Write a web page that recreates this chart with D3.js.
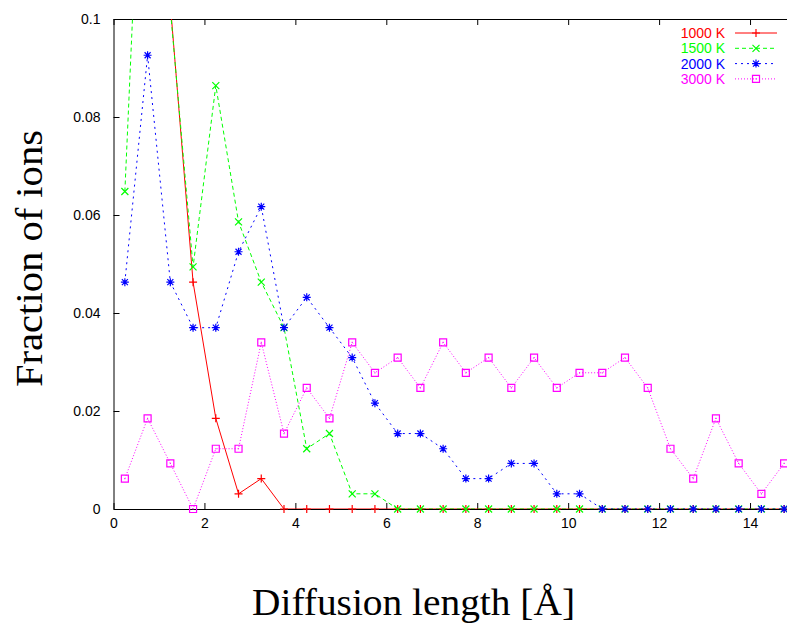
<!DOCTYPE html>
<html>
<head>
<meta charset="utf-8">
<script src="https://cdn.jsdelivr.net/npm/d3@7"></script>
<style>
  body { margin: 0; background: #fff; }
  .tick text { font-family: "Liberation Sans", Arial, sans-serif; font-size: 14px; fill: #000; }
  .axis path, .axis line { stroke: #000; stroke-width: 1; }
  .title { font-family: "Liberation Serif", "DejaVu Serif", serif; font-size: 37px; fill: #000; }
  .legend text { font-family: "Liberation Sans", Arial, sans-serif; font-size: 14px; }
</style>
</head>
<body>
<div id="vis"></div>
<script>
// Constants
const W = 787, H = 626;
const margin = { top: 19, left: 113.5, bottom: 117 };
const plotRight = 795.5; // right border lies just outside the picture

// bin centres (diffusion length, Angstrom)
const binCenters = [0.25, 0.75, 1.25, 1.75, 2.25, 2.75, 3.25, 3.75, 4.25, 4.75,
    5.25, 5.75, 6.25, 6.75, 7.25, 7.75, 8.25, 8.75, 9.25, 9.75,
    10.25, 10.75, 11.25, 11.75, 12.25, 12.75, 13.25, 13.75, 14.25, 14.75];

// fraction of ions per temperature
const frac1000 = [0.30, 0.25, 0.103, 0.0463, 0.0185, 0.0031, 0.0062, 0, 0, 0,
    0, 0, 0, 0, 0, 0, 0, 0, 0, 0,
    0, 0, 0, 0, 0, 0, 0, 0, 0, 0];
const frac1500 = [0.0648, 0.17, 0.102, 0.0494, 0.0864, 0.0586, 0.0463, 0.037, 0.0123, 0.0154,
    0.0031, 0.0031, 0, 0, 0, 0, 0, 0, 0, 0,
    0, 0, 0, 0, 0, 0, 0, 0, 0, 0];
const frac2000 = [0.0463, 0.0926, 0.0463, 0.037, 0.037, 0.0525, 0.0617, 0.037, 0.0432, 0.037,
    0.0309, 0.0216, 0.0154, 0.0154, 0.0123, 0.0062, 0.0062, 0.0093, 0.0093, 0.0031,
    0.0031, 0, 0, 0, 0, 0, 0, 0, 0, 0];
const frac3000 = [0.0062, 0.0185, 0.0093, 0, 0.0123, 0.0123, 0.034, 0.0154, 0.0247, 0.0185,
    0.034, 0.0278, 0.0309, 0.0247, 0.034, 0.0278, 0.0309, 0.0247, 0.0309, 0.0247,
    0.0278, 0.0278, 0.0309, 0.0247, 0.0123, 0.0062, 0.0185, 0.0093, 0.0031, 0.0093];

const seriesNames = ['1000 K', '1500 K', '2000 K', '3000 K'];
const seriesColors = ['#ff0000', '#00ff00', '#0000ff', '#ff00ff'];
const seriesDash = [null, '4,3', '2,4', '1,2'];
const seriesMarker = ['plus', 'cross', 'star', 'box'];
const seriesValues = [frac1000, frac1500, frac2000, frac3000];

const xTicks = [0, 2, 4, 6, 8, 10, 12, 14];
const yTicks = [0, 0.02, 0.04, 0.06, 0.08, 0.1];
const yTickLabels = ['0', '0.02', '0.04', '0.06', '0.08', '0.1'];

const xScale = d3.scaleLinear().domain([0, 15]).range([margin.left, plotRight]);
const yScale = d3.scaleLinear().domain([0, 0.1]).range([H - margin.bottom, margin.top]);

const svg = d3.select('#vis').append('svg')
    .attr('width', W)
    .attr('height', H);

// marker shapes, 4px half size
const s = 4;
const markerPaths = {
    plus: `M${-s},0H${s}M0,${-s}V${s}`,
    cross: `M${-s+0.5},${-s+0.5}L${s-0.5},${s-0.5}M${-s+0.5},${s-0.5}L${s-0.5},${-s+0.5}`,
    star: `M${-s},0H${s}M0,${-s}V${s}M${-s+1},${-s+1}L${s-1},${s-1}M${-s+1},${s-1}L${s-1},${-s+1}`,
    box: `M${-s+0.5},${-s+0.5}H${s-0.5}V${s-0.5}H${-s+0.5}Z M-0.5,0H0.5`
};

function drawAxes() {
    const bottomY = yScale(0);
    const g = svg.append('g').attr('class', 'axis');

    g.append('g')
        .attr('transform', `translate(0,${bottomY})`)
        .call(d3.axisBottom(xScale).tickValues(xTicks).tickSize(-6).tickSizeOuter(0).tickPadding(9)
            .tickFormat(d => d));

    g.append('g')
        .attr('transform', `translate(0,${margin.top})`)
        .call(d3.axisTop(xScale).tickValues(xTicks).tickSize(-6).tickSizeOuter(0).tickFormat(''));

    g.append('g')
        .attr('transform', `translate(${margin.left},0)`)
        .call(d3.axisLeft(yScale).tickValues(yTicks).tickSize(-6).tickSizeOuter(0).tickPadding(13)
            .tickFormat((d, i) => yTickLabels[i]));

    // axis titles (stretched to the widths of the original serif lettering)
    svg.append('text')
        .attr('class', 'title')
        .attr('x', 252)
        .attr('y', 615)
        .attr('textLength', 323)
        .attr('lengthAdjust', 'spacingAndGlyphs')
        .text('Diffusion length [Å]');

    svg.append('text')
        .attr('class', 'title')
        .attr('transform', 'rotate(-90)')
        .attr('x', -387)
        .attr('y', 42)
        .attr('textLength', 257)
        .attr('lengthAdjust', 'spacingAndGlyphs')
        .text('Fraction of ions');
}

function drawSeries() {
    svg.append('clipPath').attr('id', 'plotClip')
        .append('rect')
        .attr('x', margin.left)
        .attr('y', margin.top)
        .attr('width', plotRight - margin.left)
        .attr('height', yScale(0) - margin.top);

    const line = d3.line()
        .x((d, i) => xScale(binCenters[i]))
        .y(d => yScale(d));

    seriesValues.forEach((vals, k) => {
        const g = svg.append('g');
        g.append('path')
            .datum(vals)
            .attr('clip-path', 'url(#plotClip)')
            .attr('fill', 'none')
            .attr('stroke', seriesColors[k])
            .attr('stroke-width', 1)
            .attr('stroke-dasharray', seriesDash[k])
            .attr('d', line);

        g.selectAll('.pt')
            .data(vals.map((v, i) => ({ x: binCenters[i], y: v })).filter(d => d.y <= 0.1))
            .join('path')
            .attr('class', 'pt')
            .attr('transform', d => `translate(${xScale(d.x)},${yScale(d.y)})`)
            .attr('d', markerPaths[seriesMarker[k]])
            .attr('fill', 'none')
            .attr('stroke', seriesColors[k])
            .attr('stroke-width', 1.2);
    });
}

function drawLegend() {
    const lg = svg.append('g').attr('class', 'legend');
    seriesNames.forEach((name, k) => {
        const y = 33 + k * 15.3;
        lg.append('text')
            .attr('x', 725)
            .attr('y', y)
            .attr('dy', '0.35em')
            .attr('text-anchor', 'end')
            .attr('fill', seriesColors[k])
            .text(name);
        lg.append('line')
            .attr('x1', 735).attr('x2', 777)
            .attr('y1', y).attr('y2', y)
            .attr('stroke', seriesColors[k])
            .attr('stroke-width', 1)
            .attr('stroke-dasharray', seriesDash[k]);
        lg.append('path')
            .attr('transform', `translate(756,${y})`)
            .attr('d', markerPaths[seriesMarker[k]])
            .attr('fill', 'none')
            .attr('stroke', seriesColors[k])
            .attr('stroke-width', 1.2);
    });
}

drawAxes();
drawSeries();
drawLegend();
</script>
</body>
</html>
